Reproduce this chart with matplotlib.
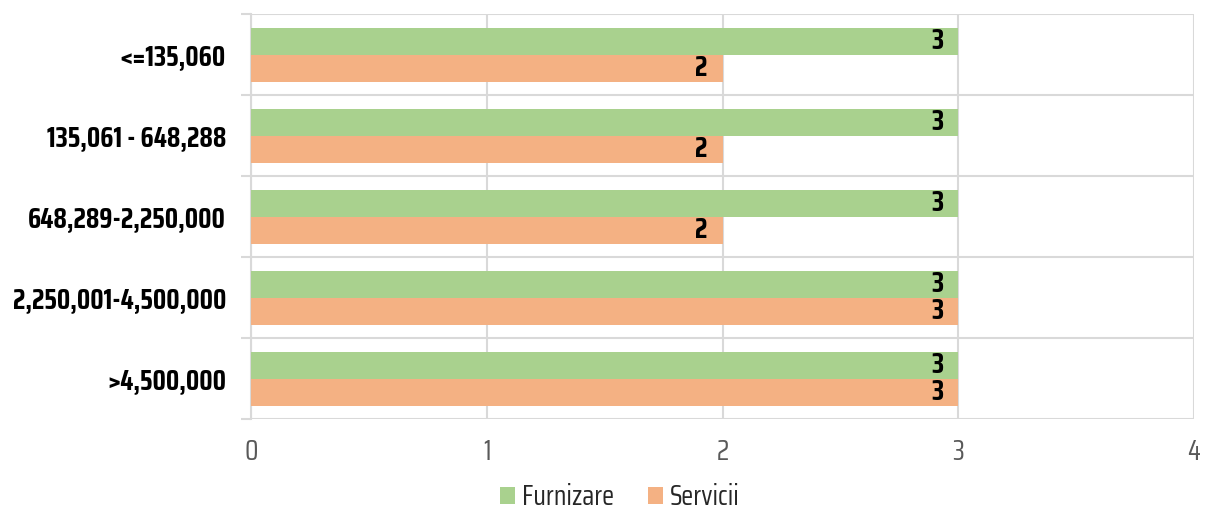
import matplotlib
matplotlib.use("Agg")
import matplotlib.pyplot as plt
import numpy as np
from matplotlib.ticker import FixedLocator
from matplotlib import font_manager as fm

categories = ["<=135,060", "135,061 - 648,288", "648,289-2,250,000",
              "2,250,001-4,500,000", ">4,500,000"]
furnizare = [3, 3, 3, 3, 3]
servicii = [2, 2, 2, 3, 3]
series_names = ["Furnizare", "Servicii"]
x_ticks = [0, 1, 2, 3, 4]

GREEN = "#A9D18E"
ORANGE = "#F4B183"
GRID = "#D9D9D9"

available = {f.name for f in fm.fontManager.ttflist}
candidates = ["Saira Condensed", "Barlow Condensed", "Rajdhani", "DejaVu Sans"]
FONT = [c for c in candidates if c in available][:1] + ["DejaVu Sans"]
plt.rcParams["font.family"] = FONT

fig = plt.figure(figsize=(12.06, 5.09), dpi=100)
ax = fig.add_axes([251/1206, 1-419/509, (1194-251)/1206, (419-14)/509])

y = np.arange(len(categories))
h = 1/3
ax.barh(y - h/2, furnizare, height=h, color=GREEN, label=series_names[0], zorder=3)
ax.barh(y + h/2, servicii, height=h, color=ORANGE, label=series_names[1], zorder=3)

LBL = 20
for yi, v in zip(y, furnizare):
    ax.text(v - 0.064, yi - h/2, str(v), ha="right", va="center", fontsize=LBL,
            fontweight="bold", color="black", zorder=4)
for yi, v in zip(y, servicii):
    ax.text(v - 0.064, yi + h/2, str(v), ha="right", va="center", fontsize=LBL,
            fontweight="bold", color="black", zorder=4)

ax.set_xlim(0, 4)
ax.set_ylim(len(categories) - 0.5, -0.5)
ax.set_xticks(x_ticks)
ax.set_xticklabels([str(t) for t in x_ticks], fontsize=20, color="#595959",
                   fontweight="normal")
ax.set_yticks(y)
ax.set_yticklabels(categories, fontsize=LBL, fontweight="bold", color="black")
ax.yaxis.set_minor_locator(FixedLocator(np.arange(-0.5, len(categories), 1)))

ax.tick_params(axis="y", which="major", length=0, pad=18)
ax.tick_params(axis="y", which="minor", length=7, width=1.5, color=GRID)
ax.tick_params(axis="x", which="major", length=0, pad=14)

ax.grid(axis="x", which="major", color=GRID, linewidth=1.5, zorder=0)
ax.grid(axis="y", which="minor", color=GRID, linewidth=1.5, zorder=0)
ax.grid(axis="y", which="major", visible=False)

for s in ["top", "right", "bottom"]:
    ax.spines[s].set_visible(False)
ax.spines["left"].set_color(GRID)
ax.spines["left"].set_linewidth(1.5)

leg = fig.legend(loc="center", bbox_to_anchor=(620/1206, 1-497/509), ncol=2,
                 frameon=False, fontsize=20, handlelength=0.55, handleheight=0.55,
                 handletextpad=0.25, columnspacing=1.2, labelcolor="#262626")

fig.savefig("out.png", dpi=100)
